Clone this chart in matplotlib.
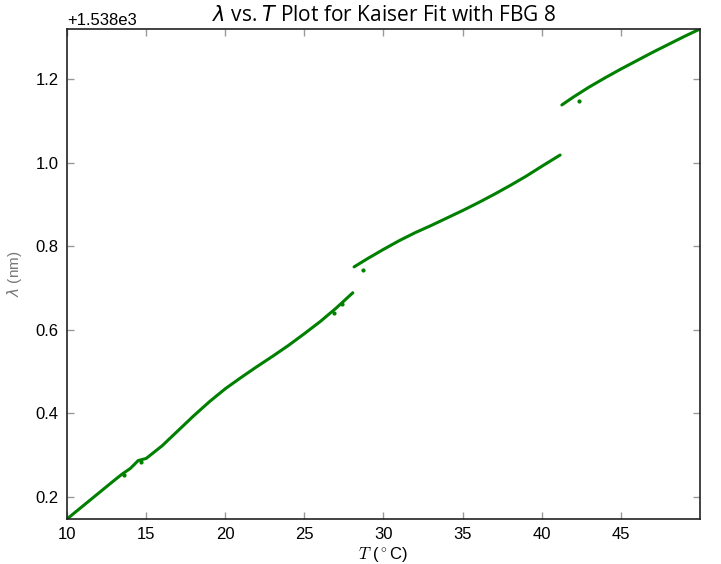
import matplotlib
matplotlib.use('Agg')
import matplotlib.pyplot as plt
from matplotlib.ticker import ScalarFormatter

# wavelength shift data (lambda - 1538 nm)
base = 1538.0
T1 = [10.0, 11.0, 12.0, 13.0, 13.5, 14.0, 14.5, 15.0, 16.0, 17.0, 18.0, 19.0,
      20.0, 21.0, 22.0, 23.0, 24.0, 25.0, 26.0, 27.0, 28.06]
L1 = [0.147, 0.178, 0.209, 0.240, 0.255, 0.268, 0.287, 0.292, 0.322, 0.358,
      0.394, 0.428, 0.459, 0.486, 0.512, 0.537, 0.563, 0.591, 0.620, 0.652, 0.689]
T2 = [28.14, 29.0, 30.0, 31.0, 32.0, 33.0, 34.0, 35.0, 36.0, 37.0, 38.0, 39.0,
      40.0, 41.16]
L2 = [0.751, 0.771, 0.793, 0.814, 0.833, 0.850, 0.868, 0.886, 0.905, 0.925,
      0.946, 0.968, 0.992, 1.019]
T3 = [41.27, 42.0, 43.0, 44.0, 45.0, 46.0, 47.0, 48.0, 49.0, 50.0]
L3 = [1.139, 1.158, 1.182, 1.204, 1.225, 1.245, 1.265, 1.284, 1.303, 1.321]
# stray points
Tout = [13.6, 14.7, 28.7, 42.36, 26.9, 27.4]
Lout = [0.252, 0.284, 0.744, 1.148, 0.640, 0.662]

plt.rcParams['font.family'] = ['Liberation Sans', 'DejaVu Sans']
fig = plt.figure(figsize=(7.21, 5.64), dpi=100)
ax = fig.add_axes([0.0929, 0.0798, 0.878, 0.8688])

green = '#008000'
for t, l in [(T1, L1), (T2, L2), (T3, L3)]:
    ax.plot(t, [base + v for v in l], color=green, linewidth=2.2, solid_capstyle='round')
ax.plot(Tout, [base + v for v in Lout], '.', color=green, markersize=4)

ax.set_xlim(10, 50)
ax.set_ylim(base + 0.147, base + 1.321)
ax.set_xticks([10, 15, 20, 25, 30, 35, 40, 45])
ax.set_yticks([base + v for v in [0.2, 0.4, 0.6, 0.8, 1.0, 1.2]])
fmt = ScalarFormatter(useOffset=base)
ax.yaxis.set_major_formatter(fmt)

ax.tick_params(direction='in', length=5, width=1, color='#999999',
               top=True, right=True, labelsize=12, pad=6)
for s in ax.spines.values():
    s.set_linewidth(1.2)
    s.set_color('#222222')
ax.yaxis.get_offset_text().set_fontsize(12)

ax.set_title(r'$\lambda$ vs. $T$ Plot for Kaiser Fit with FBG 8',
             fontsize=15, family='Open Sans', pad=6)
ax.set_xlabel(r'$T$ ($^\circ$C)', fontsize=12, math_fontfamily='cm', labelpad=2)
ax.set_ylabel(r'$\lambda$ (nm)', fontsize=11, color='#777777', labelpad=8)

fig.savefig('out.png', dpi=100)
